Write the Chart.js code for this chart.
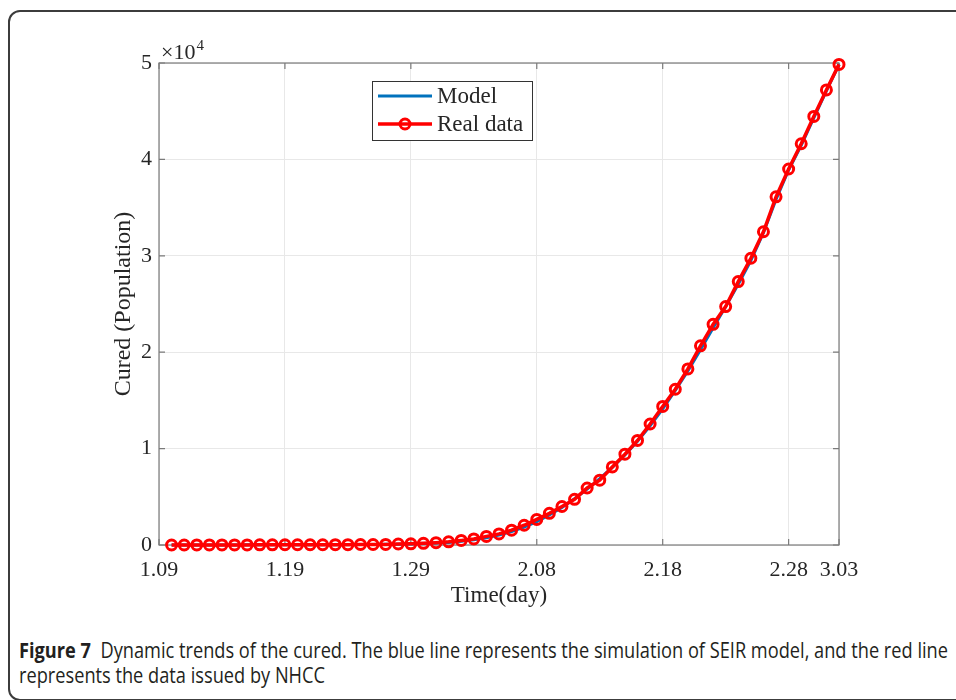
<!DOCTYPE html>
<html>
<head>
<meta charset="utf-8">
<script src="https://cdn.jsdelivr.net/npm/chart.js@4.4.1/dist/chart.umd.min.js"></script>
<style>
  html, body { margin: 0; padding: 0; background: #fff; }
  body { width: 956px; height: 700px; position: relative; overflow: hidden; }
  .frame {
    position: absolute; left: 8px; top: 10px; width: 1000px; height: 691px;
    border: 2px solid #3c3c3c; border-radius: 12px; box-sizing: border-box;
  }
  #chart { position: absolute; left: 0; top: 0; }
  .caption {
    position: absolute; left: 19px; top: 638px;
    font-family: "Open Sans", "Noto Sans", sans-serif; font-size: 21px;
    color: #231f20; line-height: 25px; white-space: nowrap;
  }
  .caption span { display: inline-block; transform-origin: left center; }
</style>
</head>
<body>
<div class="frame"></div>
<canvas id="chart" width="956" height="620"></canvas>
<div class="caption">
  <span id="capLine1"><b>Figure 7</b>&nbsp; Dynamic trends of the cured. The blue line represents the simulation of SEIR model, and the red line</span><br>
  <span id="capLine2">represents the data issued by NHCC</span>
</div>
<script>
// one entry per day, 1.09 to 3.03
const dates = [
  '1.09', '1.10', '1.11', '1.12', '1.13', '1.14', '1.15', '1.16', '1.17', '1.18',
  '1.19', '1.20', '1.21', '1.22', '1.23', '1.24', '1.25', '1.26', '1.27', '1.28',
  '1.29', '1.30', '1.31',
  '2.01', '2.02', '2.03', '2.04', '2.05', '2.06', '2.07', '2.08', '2.09', '2.10',
  '2.11', '2.12', '2.13', '2.14', '2.15', '2.16', '2.17', '2.18', '2.19', '2.20',
  '2.21', '2.22', '2.23', '2.24', '2.25', '2.26', '2.27', '2.28', '2.29',
  '3.01', '3.02', '3.03'
];

// dates that get a tick on the time axis
const tickDates = ['1.09', '1.19', '1.29', '2.08', '2.18', '2.28', '3.03'];

// y ticks, in units of 10^yExponent
const yTicks = [0, 1, 2, 3, 4, 5];
const yExponent = 4;

// cumulative cured, reported
const realData = [
  null,
  2, 2, 6, 7, 7, 12, 12, 15, 19, 25,
  25, 25, 28, 34, 38, 49, 51, 60, 103, 124,
  171, 243,
  328, 475, 632, 892, 1153, 1540, 2050, 2649, 3281, 3996,
  4740, 5911, 6723, 8096, 9419, 10844, 12552, 14376, 16155, 18264,
  20659, 22888, 24734, 27323, 29745, 32495, 36117, 39002, 41625,
  44462, 47204, 49856
];

// cumulative cured, SEIR model
const modelData = [
  null,
  2, 4, 6, 8, 10, 12, 15, 18, 21, 24,
  27, 30, 34, 38, 43, 50, 58, 70, 88, 112,
  148, 200,
  270, 380, 540, 760, 1040, 1400, 1860, 2430, 3110, 3900,
  4800, 5800, 6880, 8060, 9340, 10760, 12350, 14130, 16040, 18060,
  20250, 22500, 24750, 27050, 29500, 32400, 35850, 38900, 41450,
  44300, 47100, 49850
];

const serif = 'Liberation Serif';
const textColor = '#262626';
const axisColor = '#7a7a7a';

// box around the plot with inward tick marks on all four sides
const axesBox = {
  id: 'axesBox',
  beforeDatasetsDraw(chart) {
    const { ctx, chartArea: a, scales: { x, y } } = chart;
    ctx.save();
    ctx.strokeStyle = axisColor;
    ctx.lineWidth = 1.2;
    ctx.strokeRect(a.left, a.top, a.right - a.left, a.bottom - a.top);
    ctx.beginPath();
    x.ticks.forEach((t, i) => {
      const px = x.getPixelForTick(i);
      ctx.moveTo(px, a.bottom); ctx.lineTo(px, a.bottom - 6);
      ctx.moveTo(px, a.top); ctx.lineTo(px, a.top + 6);
    });
    y.ticks.forEach((t, i) => {
      const py = y.getPixelForTick(i);
      ctx.moveTo(a.left, py); ctx.lineTo(a.left + 6, py);
      ctx.moveTo(a.right, py); ctx.lineTo(a.right - 6, py);
    });
    ctx.stroke();
    ctx.restore();
  }
};

// exponent label and the boxed legend inside the plot
const legendBox = {
  id: 'legendBox',
  afterDraw(chart) {
    const { ctx, chartArea: a } = chart;
    ctx.save();
    ctx.fillStyle = textColor;
    ctx.textBaseline = 'alphabetic';
    ctx.font = `22px "${serif}"`;
    ctx.fillText('\u00d710', a.left + 2, a.top - 4);
    const w = ctx.measureText('\u00d710').width;
    ctx.font = `15px "${serif}"`;
    ctx.fillText(String(yExponent), a.left + 3 + w, a.top - 13);

    const bx = a.left + 213, by = a.top + 18, bw = 160, bh = 59;
    ctx.fillStyle = '#fff';
    ctx.fillRect(bx, by, bw, bh);
    ctx.strokeStyle = '#333';
    ctx.lineWidth = 1;
    ctx.strokeRect(bx + 0.5, by + 0.5, bw, bh);

    ctx.font = `23px "${serif}"`;
    ctx.textBaseline = 'middle';
    chart.data.datasets.forEach((ds, i) => {
      const ly = by + 15 + i * 28;
      ctx.strokeStyle = ds.borderColor;
      ctx.lineWidth = ds.borderWidth;
      ctx.beginPath();
      ctx.moveTo(bx + 6, ly);
      ctx.lineTo(bx + 60, ly);
      ctx.stroke();
      if (ds.pointRadius > 0) {
        ctx.lineWidth = ds.pointBorderWidth;
        ctx.strokeStyle = ds.pointBorderColor;
        ctx.beginPath();
        ctx.arc(bx + 33, ly, ds.pointRadius, 0, Math.PI * 2);
        ctx.stroke();
      }
      ctx.fillStyle = textColor;
      ctx.fillText(ds.label, bx + 65, ly + 1);
    });
    ctx.restore();
  }
};

new Chart(document.getElementById('chart'), {
  type: 'line',
  data: {
    labels: dates,
    datasets: [
      {
        label: 'Model',
        data: modelData,
        borderColor: '#0072bd',
        borderWidth: 3,
        pointRadius: 0,
        tension: 0,
        order: 2,
        clip: false
      },
      {
        label: 'Real data',
        data: realData,
        borderColor: '#ff0000',
        borderWidth: 3.5,
        pointRadius: 5,
        pointBorderWidth: 3,
        pointBorderColor: '#ff0000',
        pointBackgroundColor: 'rgba(255,255,255,0)',
        tension: 0,
        order: 1,
        clip: false
      }
    ]
  },
  options: {
    responsive: false,
    animation: false,
    devicePixelRatio: 1,
    layout: { padding: { left: 100, top: 63, right: 117, bottom: 0 } },
    plugins: { legend: { display: false }, tooltip: { enabled: false } },
    scales: {
      x: {
        type: 'category',
        offset: false,
        afterBuildTicks: (s) => {
          s.ticks = s.ticks.filter((t) => tickDates.includes(dates[t.value]));
        },
        afterFit: (s) => { s.height = 75; },
        grid: { color: '#e8e8e8', drawTicks: false },
        border: { display: false },
        ticks: {
          autoSkip: false,
          maxRotation: 0,
          padding: 12,
          color: textColor,
          font: { family: serif, size: 22 }
        },
        title: {
          display: true,
          text: 'Time(day)',
          color: textColor,
          font: { family: serif, size: 23 },
          padding: { top: 0, bottom: 10 }
        }
      },
      y: {
        min: 0,
        max: yTicks[yTicks.length - 1] * Math.pow(10, yExponent),
        afterBuildTicks: (s) => {
          s.ticks = yTicks.map((v) => ({ value: v * Math.pow(10, yExponent) }));
        },
        afterFit: (s) => { s.width = 59; },
        grid: { color: '#e8e8e8', drawTicks: false },
        border: { display: false },
        ticks: {
          padding: 7,
          color: textColor,
          font: { family: serif, size: 22 },
          callback: (v) => v / Math.pow(10, yExponent)
        },
        title: {
          display: true,
          text: 'Cured (Population)',
          color: textColor,
          font: { family: serif, size: 24 },
          padding: { top: 9, bottom: 0 }
        }
      }
    }
  },
  plugins: [axesBox, legendBox]
});

// squeeze the caption lines to the narrow figure-caption width
function fitCaption() {
  const l1 = document.getElementById('capLine1');
  const l2 = document.getElementById('capLine2');
  l1.style.transform = l2.style.transform = '';
  const k = 929 / l1.getBoundingClientRect().width;
  l1.style.transform = l2.style.transform = `scaleX(${k})`;
}
fitCaption();
document.fonts.ready.then(fitCaption);
</script>
</body>
</html>
